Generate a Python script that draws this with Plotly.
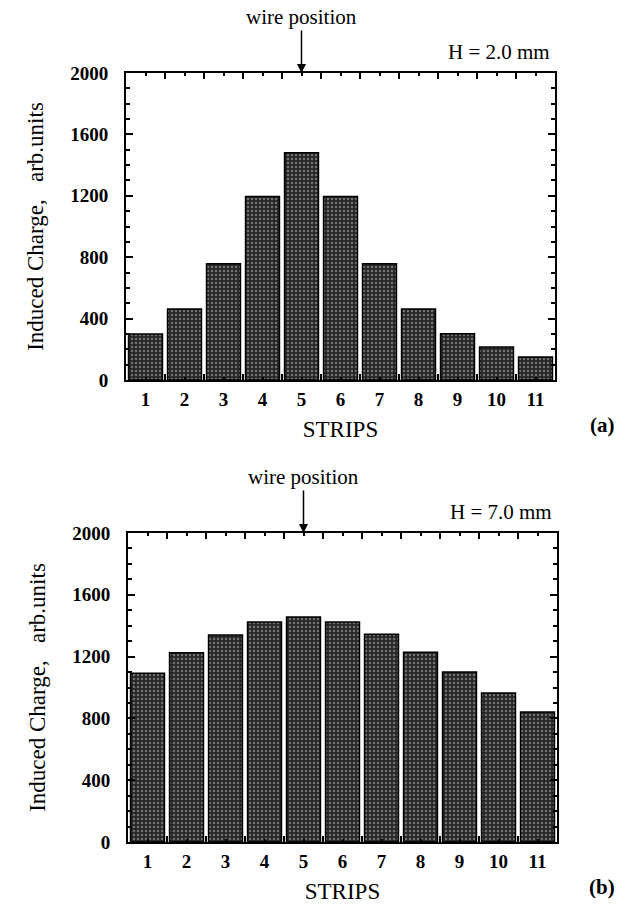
import plotly.graph_objects as go
from plotly.subplots import make_subplots

strips = list(range(1, 12))
strip_labels = [str(s) for s in strips]
charge_a = [300, 462, 758, 1195, 1480, 1195, 758, 462, 302, 215, 150]
charge_b = [1092, 1225, 1340, 1424, 1456, 1424, 1345, 1228, 1100, 964, 841]
y_ticks = [0, 400, 800, 1200, 1600, 2000]
panel_heights = ["H = 2.0 mm", "H = 7.0 mm"]
panel_tags = ["(a)", "(b)"]
wire_strip = 5

W, H = 629, 904
SERIF = "Liberation Serif, Times New Roman, serif"

fig = make_subplots(rows=2, cols=1)

bar_style = dict(
    marker=dict(
        color="#333333",
        line=dict(color="black", width=1.5),
        pattern=dict(shape=".", fgcolor="#bdbdbd", bgcolor="#262626", size=4, solidity=0.3),
    ),
    width=0.87,
    showlegend=False,
)
fig.add_trace(go.Bar(x=strips, y=charge_a, **bar_style), row=1, col=1)
fig.add_trace(go.Bar(x=strips, y=charge_b, **bar_style), row=2, col=1)

# pixel geometry
frames = [
    dict(l=126, r=555, t=73, b=380),
    dict(l=128, r=557, t=533, b=842),
]

axis_common = dict(
    showline=True, linecolor="black", linewidth=2, mirror="ticks",
    ticks="inside", tickcolor="black", showgrid=False, zeroline=False,
    automargin=False,
)

for i, f in enumerate(frames):
    xa = "xaxis" if i == 0 else "xaxis2"
    ya = "yaxis" if i == 0 else "yaxis2"
    fig.layout[xa].update(
        domain=[f["l"] / W, f["r"] / W],
        range=[0.5, 11.5],
        tickvals=strips, ticktext=["<b>" + t + "</b>" for t in strip_labels],
        ticklen=3, tickwidth=1.5, ticklabelstandoff=1,
        minor=dict(tickvals=[s + 0.5 for s in strips], ticklen=6, tickwidth=1.5,
                   ticks="inside", tickcolor="black"),
        tickfont=dict(family=SERIF, size=19, color="black"),
        title=dict(text="STRIPS", font=dict(family=SERIF, size=23, color="black"), standoff=12),
        **axis_common,
    )
    fig.layout[ya].update(
        domain=[1 - f["b"] / H, 1 - f["t"] / H],
        range=[0, 2000],
        tickvals=y_ticks, ticktext=["<b>" + str(v) + "</b>" for v in y_ticks],
        ticklen=7, tickwidth=1.5, ticklabelstandoff=12,
        minor=dict(dtick=100, ticklen=4, tickwidth=1.5, ticks="inside", tickcolor="black"),
        tickfont=dict(family=SERIF, size=19, color="black"),
        title=dict(text="Induced Charge,   arb.units", font=dict(family=SERIF, size=23, color="black"), standoff=20),
        **axis_common,
    )

    xr = "x" if i == 0 else "x2"
    yr = "y" if i == 0 else "y2"
    fig.add_annotation(
        x=wire_strip, y=2000, xref=xr, yref=yr,
        text="wire position", showarrow=True,
        ax=0, ay=-56, arrowhead=2, arrowsize=1.2, arrowwidth=1.5, arrowcolor="black",
        font=dict(family=SERIF, size=21, color="black"),
    )
    fig.add_annotation(
        x=(f["r"] - 3) / W, y=1 - (f["t"] - 21) / H, xref="paper", yref="paper",
        xanchor="right", yanchor="middle",
        text=panel_heights[i], showarrow=False,
        font=dict(family=SERIF, size=21, color="black"),
    )
    fig.add_annotation(
        x=602 / W, y=1 - (f["b"] + 45) / H, xref="paper", yref="paper",
        xanchor="center", yanchor="middle",
        text="<b>" + panel_tags[i] + "</b>", showarrow=False,
        font=dict(family=SERIF, size=21, color="black"),
    )

fig.update_layout(
    width=W, height=H,
    margin=dict(l=0, r=0, t=0, b=0),
    paper_bgcolor="white", plot_bgcolor="white",
    bargap=0.13,
)

fig.write_html("out.html")
